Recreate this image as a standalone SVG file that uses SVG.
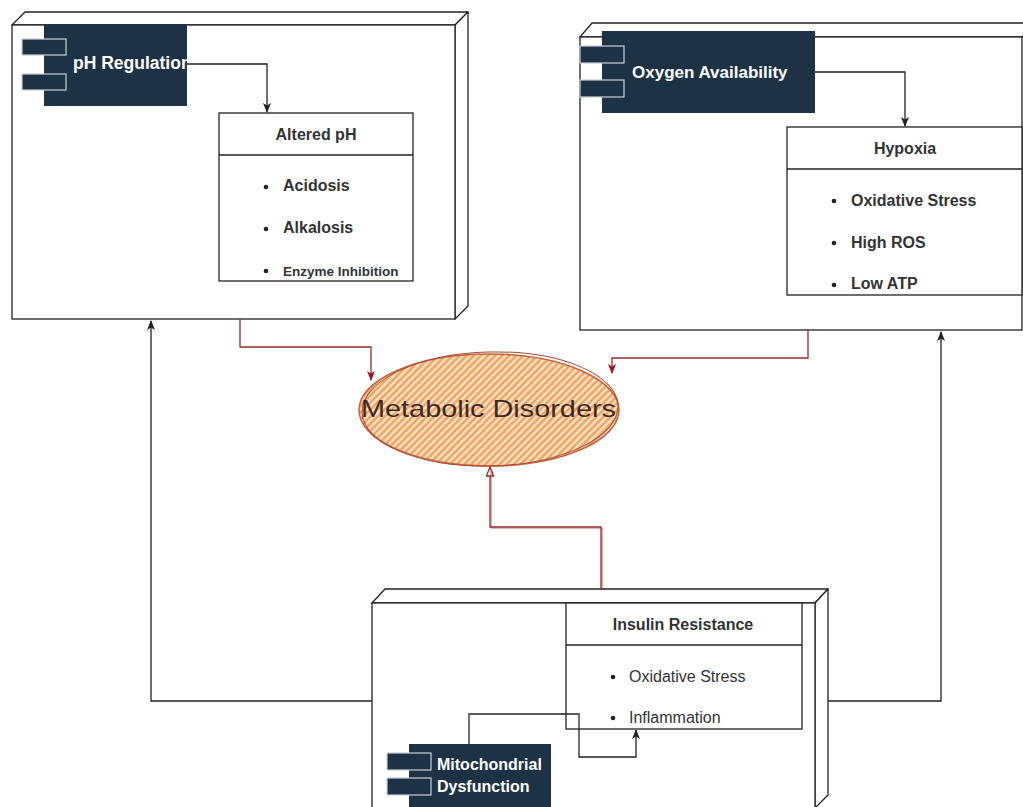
<svg xmlns="http://www.w3.org/2000/svg" width="1023" height="807" viewBox="0 0 1023 807">
<style>
.box3d{fill:#fff;stroke:#222;stroke-width:1.3}
.face{fill:#fff;stroke:#222;stroke-width:1.3;stroke-linejoin:round}
.cls{fill:#fff;stroke:#222;stroke-width:1.3}
.comp{fill:#1e3246}
.port{fill:#1e3246;stroke:#c8d0d8;stroke-width:1.2}
.ctext{font-family:"Liberation Sans",Arial,sans-serif;font-weight:bold;font-size:17px;fill:#fff}
.htext{font-family:"Liberation Sans",Arial,sans-serif;font-weight:bold;font-size:16px;fill:#333;text-anchor:middle}
.btext{font-family:"Liberation Sans",Arial,sans-serif;font-weight:bold;font-size:16px;fill:#333}
.rtext{font-family:"Liberation Sans",Arial,sans-serif;font-size:16px;fill:#333}
.dot{fill:#222}
.blk{fill:none;stroke:#222;stroke-width:1.3}
.red{fill:none;stroke:#9a2a2a;stroke-width:1.3}
</style>
<defs>
<marker id="ab" viewBox="0 0 10 8" refX="9" refY="4" markerWidth="10" markerHeight="8" markerUnits="userSpaceOnUse" orient="auto">
<path d="M0,0 L10,4 L0,8 L2.5,4 z" fill="#222"/>
</marker>
<marker id="ar" viewBox="0 0 10 8" refX="9" refY="4" markerWidth="10" markerHeight="8" markerUnits="userSpaceOnUse" orient="auto">
<path d="M0,0 L10,4 L0,8 L2.5,4 z" fill="#a01020"/>
</marker>
<marker id="ao" viewBox="0 0 12 10" refX="11" refY="5" markerWidth="11" markerHeight="9" markerUnits="userSpaceOnUse" orient="auto">
<path d="M1,1 L11,5 L1,9 z" fill="#fff" stroke="#9a2a2a" stroke-width="1.5"/>
</marker>
<pattern id="hatch" width="5" height="5" patternUnits="userSpaceOnUse" patternTransform="rotate(45)">
<rect width="5" height="5" fill="#fde2c4"/>
<line x1="1.5" y1="0" x2="1.5" y2="5" stroke="#ef9a56" stroke-width="2.2"/>
</pattern>
</defs>

<g id="ph-node">
<polygon class="face" points="12,25 25,12 468,12 455,25"/>
<polygon class="face" points="455,25 468,12 468,306 455,319"/>
<rect class="box3d" x="12" y="25" width="443" height="294"/>
</g>

<g id="ph-regulation">
<rect class="comp" x="44" y="24" width="143" height="82"/>
<rect class="port" x="22" y="39" width="44" height="16"/>
<rect class="port" x="22" y="74" width="44" height="16"/>
<text class="ctext" x="73" y="69" style="font-size:17.5px">pH Regulation</text>
</g>

<g id="altered-ph">
<rect class="cls" x="219" y="113" width="194" height="168"/>
<line class="cls" x1="219" y1="155" x2="413" y2="155"/>
<text class="htext" x="316" y="140">Altered pH</text>
<circle class="dot" cx="266" cy="187" r="2.3"/>
<text class="btext" x="283" y="191">Acidosis</text>
<circle class="dot" cx="266" cy="229" r="2.3"/>
<text class="btext" x="283" y="233">Alkalosis</text>
<circle class="dot" cx="266" cy="271" r="2.3"/>
<text class="btext" x="283" y="276" style="font-size:13.5px">Enzyme Inhibition</text>
</g>

<g id="oxygen-node">
<polygon class="face" points="580,37 592,23 1036,23 1022,37"/>
<rect class="box3d" x="580" y="37" width="442" height="293"/>
</g>

<g id="oxygen-availability">
<rect class="comp" x="602" y="31" width="213" height="82"/>
<rect class="port" x="580" y="46" width="44" height="17"/>
<rect class="port" x="580" y="80" width="44" height="17"/>
<text class="ctext" x="632" y="78">Oxygen Availability</text>
</g>

<g id="hypoxia">
<rect class="cls" x="787" y="127" width="235" height="168"/>
<line class="cls" x1="787" y1="169" x2="1022" y2="169"/>
<text class="htext" x="905" y="154">Hypoxia</text>
<circle class="dot" cx="834" cy="201" r="2.3"/>
<text class="btext" x="851" y="206">Oxidative Stress</text>
<circle class="dot" cx="834" cy="243" r="2.3"/>
<text class="btext" x="851" y="248">High ROS</text>
<circle class="dot" cx="834" cy="285" r="2.3"/>
<text class="btext" x="851" y="289">Low ATP</text>
</g>

<g id="metabolic-disorders">
<ellipse cx="489" cy="410" rx="130" ry="56" fill="url(#hatch)" stroke="#c8643a" stroke-width="1.6"/>
<ellipse cx="490" cy="409" rx="128" ry="57" fill="none" stroke="#a84a36" stroke-width="1" transform="rotate(-1.5 490 409)"/>
<text x="361" y="417" textLength="255" lengthAdjust="spacingAndGlyphs" style="font-family:'Liberation Sans',Arial,sans-serif;font-size:24px;fill:#3a2a22">Metabolic Disorders</text>
</g>

<g id="insulin-node">
<polygon class="face" points="372,603 385,589 828,589 815,603"/>
<polygon class="face" points="815,603 828,589 828,795 815,808"/>
<rect class="box3d" x="372" y="603" width="443" height="210"/>
</g>

<g id="insulin-resistance">
<rect class="cls" x="566" y="603" width="236" height="126"/>
<line class="cls" x1="566" y1="645" x2="802" y2="645"/>
<text class="htext" x="683" y="630">Insulin Resistance</text>
<circle class="dot" cx="613" cy="677" r="2.3"/>
<text class="rtext" x="629" y="682">Oxidative Stress</text>
<circle class="dot" cx="613" cy="718" r="2.3"/>
<text class="rtext" x="629" y="723">Inflammation</text>
</g>

<g id="mitochondrial-dysfunction">
<rect class="comp" x="409" y="744" width="142" height="70"/>
<rect class="port" x="387" y="753" width="44" height="17"/>
<rect class="port" x="387" y="778" width="44" height="17"/>
<text class="ctext" x="437" y="770" style="font-size:16px">Mitochondrial</text>
<text class="ctext" x="437" y="792" style="font-size:16px">Dysfunction</text>
</g>

<g id="connectors">
<path class="blk" d="M187,64 H267 V112" marker-end="url(#ab)"/>
<path class="blk" d="M815,72 H905 V126" marker-end="url(#ab)"/>
<path class="blk" d="M469,744 V714 H579 V757 H636 V730" marker-end="url(#ab)"/>
<path class="blk" d="M372,701 H151 V321" marker-end="url(#ab)"/>
<path class="blk" d="M828,701 H941 V332" marker-end="url(#ab)"/>
<path class="red" d="M240,319 V347 H371 V380" marker-end="url(#ar)"/>
<path class="red" d="M808,330 V358 H612 V373" marker-end="url(#ar)"/>
<path class="red" d="M601,589 V527 H490 V467" marker-end="url(#ao)"/>
<path fill="none" stroke="#b04040" stroke-width="0.8" d="M602,588 V528 H491 V470"/>
</g>
</svg>
